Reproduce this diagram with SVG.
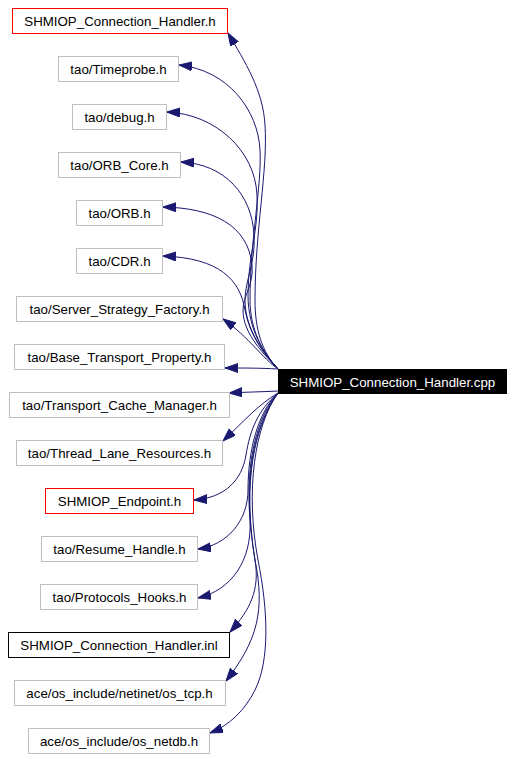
<svg xmlns="http://www.w3.org/2000/svg" width="514" height="759" viewBox="0 0 514 759">
<style>
.n rect{fill:#fff;stroke:#bfbfbf;stroke-width:1}
.n.red rect{stroke:#ff0000}
.n.blk rect{stroke:#000}
.n.main rect{fill:#000;stroke:#000}
text{font-family:"Liberation Sans",Arial,sans-serif;font-size:13.3px;text-anchor:middle;fill:#000}
.main text{fill:#fff}
.e path{fill:none;stroke:#191970;stroke-width:1;marker-end:url(#ah)}
</style>
<defs>
<marker id="ah" markerUnits="userSpaceOnUse" markerWidth="14" markerHeight="10" refX="13" refY="4.5" orient="auto" viewBox="0 0 14 10">
<path d="M0,0 L13,4.5 L0,9 Z" fill="#191970" stroke="#191970"/>
</marker>
</defs>
<rect width="514" height="759" fill="#fff"/>
<g id="edges" class="e">
<path d="M278,369 C262,352 255,330 255,300 C255,230 268,170 265,125 C263,90 245,62 228,33"/>
<path d="M278,369 C263,353 250,330 250,300 C250,240 262,185 260,150 C258,110 228,70 179,65"/>
<path d="M278,369 C264,354 248,330 248,295 C248,255 259,230 257,195 C255,150 215,114 167,112"/>
<path d="M278,369 C265,355 245,330 245,300 C245,280 256,262 254,235 C252,195 225,164 181,162"/>
<path d="M278,369 C266,356 243,335 243,310 C243,295 254,285 252,265 C248,225 213,208 163,207"/>
<path d="M278,369 C262,352 250,335 245,310 C240,280 220,258 163,256"/>
<path d="M278,369 C262,358 250,338 223,319"/>
<path d="M278,369 C260,368 245,368 225,368"/>
<path d="M278,391 C260,392 245,392 229,393"/>
<path d="M278,393 C258,405 245,420 223,441"/>
<path d="M278,393 C258,410 250,430 246,455 C242,480 225,498 194,500"/>
<path d="M278,393 C258,412 248,450 248,490 C248,520 228,545 198,549"/>
<path d="M278,393 C258,415 245,460 250,520 C252,560 232,590 198,598"/>
<path d="M278,393 C258,420 240,470 255,560 C260,590 250,610 230,632"/>
<path d="M278,393 C255,425 242,480 255,560 C265,610 258,640 226,681"/>
<path d="M278,393 C255,425 245,490 258,560 C268,610 270,660 255,690 C245,710 230,725 210,733"/>
</g>
<g id="main" class="n main"><rect x="278.5" y="369.5" width="228" height="24"/><text x="392.5" y="386.5">SHMIOP_Connection_Handler.cpp</text></g>
<g id="n1" class="n red"><rect x="12.5" y="8.5" width="215" height="25"/><text x="120" y="26">SHMIOP_Connection_Handler.h</text></g>
<g id="n2" class="n"><rect x="58.5" y="56.5" width="120" height="25"/><text x="118.5" y="74">tao/Timeprobe.h</text></g>
<g id="n3" class="n"><rect x="72.5" y="104.5" width="94" height="25"/><text x="119.5" y="122">tao/debug.h</text></g>
<g id="n4" class="n"><rect x="58.5" y="152.5" width="122" height="25"/><text x="119.5" y="170">tao/ORB_Core.h</text></g>
<g id="n5" class="n"><rect x="76.5" y="200.5" width="86" height="25"/><text x="119.5" y="218">tao/ORB.h</text></g>
<g id="n6" class="n"><rect x="76.5" y="248.5" width="86" height="25"/><text x="119.5" y="266">tao/CDR.h</text></g>
<g id="n7" class="n"><rect x="16.5" y="296.5" width="206" height="25"/><text x="119.5" y="314">tao/Server_Strategy_Factory.h</text></g>
<g id="n8" class="n"><rect x="14.5" y="344.5" width="210" height="25"/><text x="119.5" y="362">tao/Base_Transport_Property.h</text></g>
<g id="n9" class="n"><rect x="9.5" y="392.5" width="220" height="25"/><text x="119.5" y="410">tao/Transport_Cache_Manager.h</text></g>
<g id="n10" class="n"><rect x="16.5" y="440.5" width="206" height="25"/><text x="119.5" y="458">tao/Thread_Lane_Resources.h</text></g>
<g id="n11" class="n red"><rect x="45.5" y="488.5" width="148" height="25"/><text x="119.5" y="506">SHMIOP_Endpoint.h</text></g>
<g id="n12" class="n"><rect x="41.5" y="536.5" width="156" height="25"/><text x="119.5" y="554">tao/Resume_Handle.h</text></g>
<g id="n13" class="n"><rect x="40.5" y="584.5" width="157" height="25"/><text x="119.5" y="602">tao/Protocols_Hooks.h</text></g>
<g id="n14" class="n blk"><rect x="8.5" y="632.5" width="221" height="25"/><text x="119" y="650">SHMIOP_Connection_Handler.inl</text></g>
<g id="n15" class="n"><rect x="14.5" y="680.5" width="211" height="25"/><text x="119.5" y="698">ace/os_include/netinet/os_tcp.h</text></g>
<g id="n16" class="n"><rect x="28.5" y="728.5" width="181" height="25"/><text x="119" y="746">ace/os_include/os_netdb.h</text></g>
</svg>
